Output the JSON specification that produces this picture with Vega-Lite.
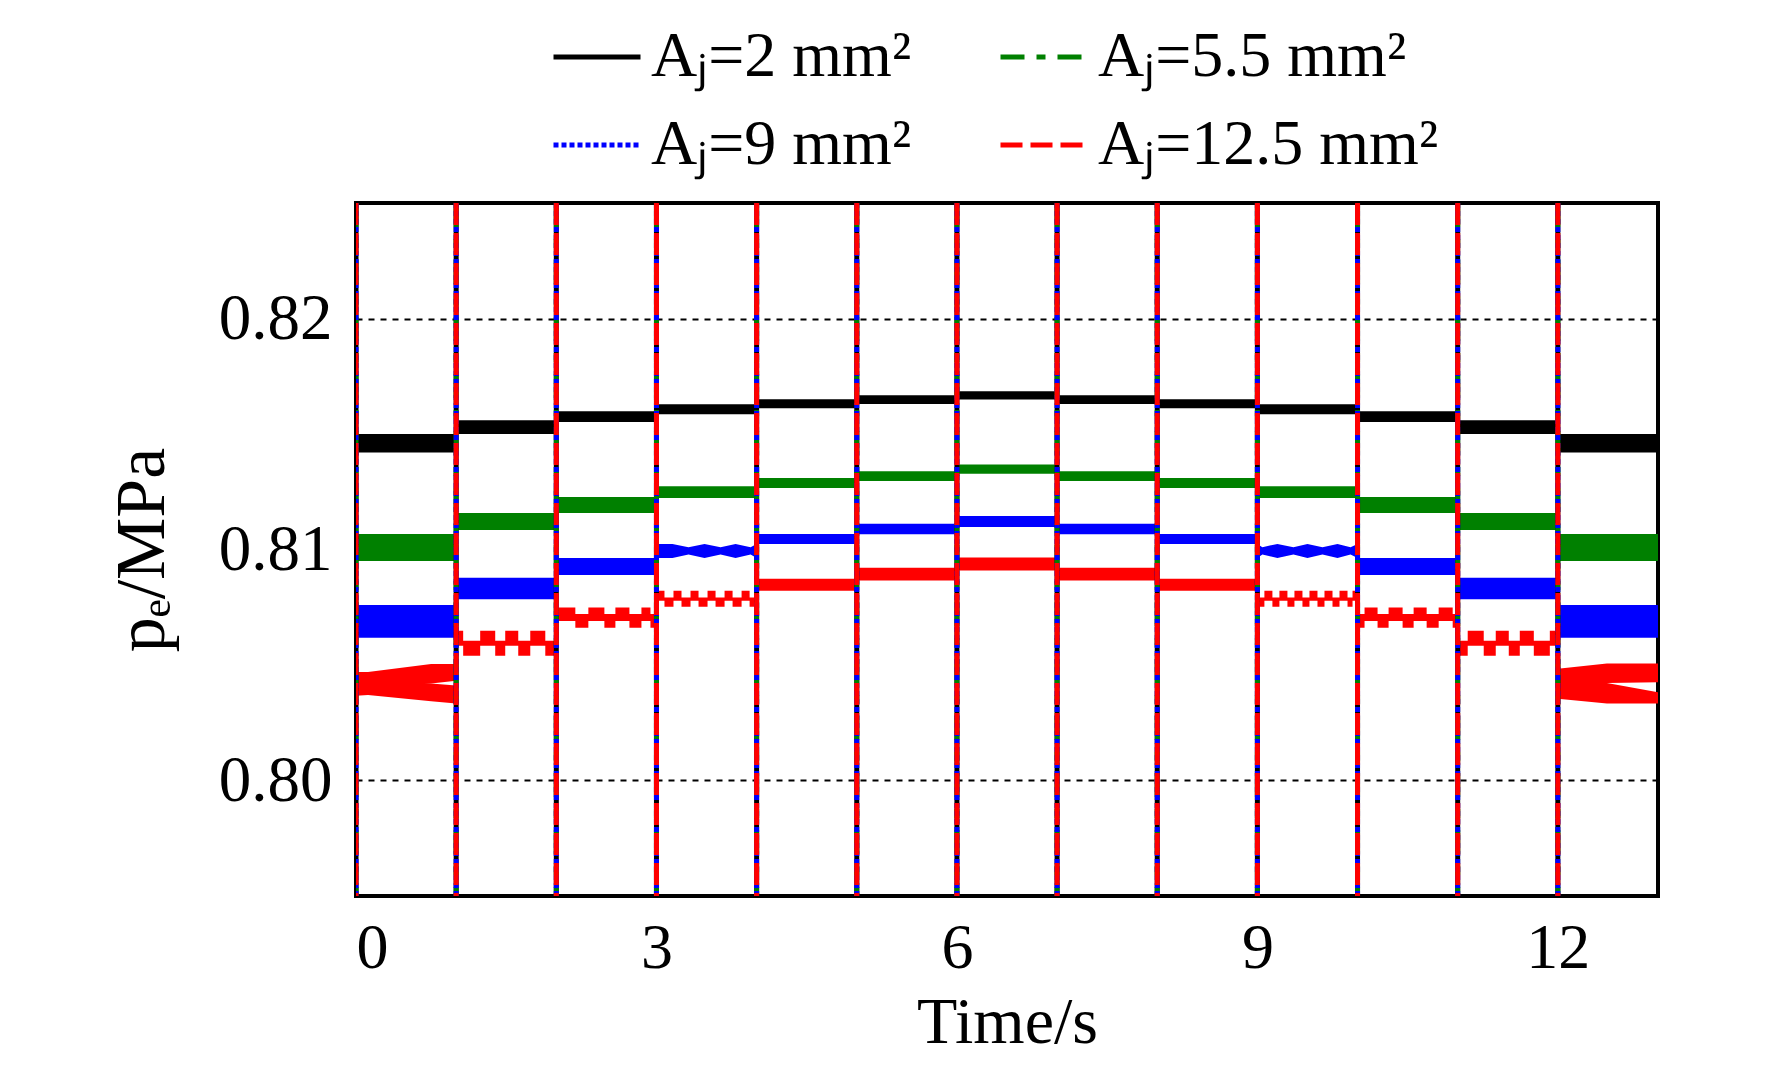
{
"$schema":"https://vega.github.io/schema/vega-lite/v6.json",
"autosize":{"type":"none"},
"padding":{"left":356,"top":203,"right":114,"bottom":175},
"width":1302,"height":693,
"background":"white",
"config":{"font":"Liberation Serif","view":{"stroke":"black","strokeWidth":4},
"legend":{"orient":"none","direction":"horizontal","legendX":195,"legendY":-192,"columns":2,"symbolType":"stroke","symbolSize":7569,"symbolStrokeWidth":5,"labelFontSize":64,"labelFont":"Liberation Serif","labelColor":"black","labelOffset":8,"columnPadding":78,"rowPadding":10,"labelLimit":0}},
"datasets":{
"bands":[
{"s":"2","g":"k0","t":0,"lo":0.8142,"hi":0.815},{"s":"2","g":"k0","t":1,"lo":0.8142,"hi":0.815},
{"s":"2","g":"k1","t":1,"lo":0.815,"hi":0.8156},{"s":"2","g":"k1","t":2,"lo":0.815,"hi":0.8156},
{"s":"2","g":"k2","t":2,"lo":0.81552,"hi":0.81598},{"s":"2","g":"k2","t":3,"lo":0.81552,"hi":0.81598},
{"s":"2","g":"k3","t":3,"lo":0.81585,"hi":0.81629},{"s":"2","g":"k3","t":4,"lo":0.81585,"hi":0.81629},
{"s":"2","g":"k4","t":4,"lo":0.81611,"hi":0.8165},{"s":"2","g":"k4","t":5,"lo":0.81611,"hi":0.8165},
{"s":"2","g":"k5","t":5,"lo":0.8163,"hi":0.81668},{"s":"2","g":"k5","t":6,"lo":0.8163,"hi":0.81668},
{"s":"2","g":"k6","t":6,"lo":0.81649,"hi":0.81685},{"s":"2","g":"k6","t":7,"lo":0.81649,"hi":0.81685},
{"s":"2","g":"k7","t":7,"lo":0.8163,"hi":0.81668},{"s":"2","g":"k7","t":8,"lo":0.8163,"hi":0.81668},
{"s":"2","g":"k8","t":8,"lo":0.81611,"hi":0.8165},{"s":"2","g":"k8","t":9,"lo":0.81611,"hi":0.8165},
{"s":"2","g":"k9","t":9,"lo":0.81585,"hi":0.81629},{"s":"2","g":"k9","t":10,"lo":0.81585,"hi":0.81629},
{"s":"2","g":"k10","t":10,"lo":0.81552,"hi":0.81598},{"s":"2","g":"k10","t":11,"lo":0.81552,"hi":0.81598},
{"s":"2","g":"k11","t":11,"lo":0.815,"hi":0.8156},{"s":"2","g":"k11","t":12,"lo":0.815,"hi":0.8156},
{"s":"2","g":"k12","t":12,"lo":0.8142,"hi":0.815},{"s":"2","g":"k12","t":13,"lo":0.8142,"hi":0.815},
{"s":"5.5","g":"g0","t":0,"lo":0.8095,"hi":0.81067},{"s":"5.5","g":"g0","t":1,"lo":0.8095,"hi":0.81067},
{"s":"5.5","g":"g1","t":1,"lo":0.81084,"hi":0.81158},{"s":"5.5","g":"g1","t":2,"lo":0.81084,"hi":0.81158},
{"s":"5.5","g":"g2","t":2,"lo":0.81158,"hi":0.81227},{"s":"5.5","g":"g2","t":3,"lo":0.81158,"hi":0.81227},
{"s":"5.5","g":"g3","t":3,"lo":0.81223,"hi":0.81274},{"s":"5.5","g":"g3","t":4,"lo":0.81223,"hi":0.81274},
{"s":"5.5","g":"g4","t":4,"lo":0.81266,"hi":0.81309},{"s":"5.5","g":"g4","t":5,"lo":0.81266,"hi":0.81309},
{"s":"5.5","g":"g5","t":5,"lo":0.81296,"hi":0.81339},{"s":"5.5","g":"g5","t":6,"lo":0.81296,"hi":0.81339},
{"s":"5.5","g":"g6","t":6,"lo":0.81328,"hi":0.81368},{"s":"5.5","g":"g6","t":7,"lo":0.81328,"hi":0.81368},
{"s":"5.5","g":"g7","t":7,"lo":0.81296,"hi":0.81339},{"s":"5.5","g":"g7","t":8,"lo":0.81296,"hi":0.81339},
{"s":"5.5","g":"g8","t":8,"lo":0.81266,"hi":0.81309},{"s":"5.5","g":"g8","t":9,"lo":0.81266,"hi":0.81309},
{"s":"5.5","g":"g9","t":9,"lo":0.81223,"hi":0.81274},{"s":"5.5","g":"g9","t":10,"lo":0.81223,"hi":0.81274},
{"s":"5.5","g":"g10","t":10,"lo":0.81158,"hi":0.81227},{"s":"5.5","g":"g10","t":11,"lo":0.81158,"hi":0.81227},
{"s":"5.5","g":"g11","t":11,"lo":0.81084,"hi":0.81158},{"s":"5.5","g":"g11","t":12,"lo":0.81084,"hi":0.81158},
{"s":"5.5","g":"g12","t":12,"lo":0.8095,"hi":0.81067},{"s":"5.5","g":"g12","t":13,"lo":0.8095,"hi":0.81067},
{"s":"9","g":"b0","t":0,"lo":0.80618,"hi":0.8076},{"s":"9","g":"b0","t":1,"lo":0.80618,"hi":0.8076},
{"s":"9","g":"b1","t":1,"lo":0.80785,"hi":0.80878},{"s":"9","g":"b1","t":2,"lo":0.80785,"hi":0.80878},
{"s":"9","g":"b2","t":2,"lo":0.8089,"hi":0.80963},{"s":"9","g":"b2","t":3,"lo":0.8089,"hi":0.80963},
{"s":"9","g":"b3","t":3,"lo":0.80963,"hi":0.81024},{"s":"9","g":"b3","t":3.16,"lo":0.80963,"hi":0.81024},
{"s":"9","g":"b3","t":3.32,"lo":0.80978,"hi":0.8101},{"s":"9","g":"b3","t":3.48,"lo":0.80963,"hi":0.81024},
{"s":"9","g":"b3","t":3.64,"lo":0.80978,"hi":0.8101},{"s":"9","g":"b3","t":3.79,"lo":0.80963,"hi":0.81024},
{"s":"9","g":"b3","t":3.94,"lo":0.80978,"hi":0.8101},{"s":"9","g":"b3","t":4,"lo":0.80963,"hi":0.81024},
{"s":"9","g":"b4","t":4,"lo":0.81024,"hi":0.81067},{"s":"9","g":"b4","t":5,"lo":0.81024,"hi":0.81067},
{"s":"9","g":"b5","t":5,"lo":0.81066,"hi":0.81111},{"s":"9","g":"b5","t":6,"lo":0.81066,"hi":0.81111},
{"s":"9","g":"b6","t":6,"lo":0.81097,"hi":0.81145},{"s":"9","g":"b6","t":7,"lo":0.81097,"hi":0.81145},
{"s":"9","g":"b7","t":7,"lo":0.81066,"hi":0.81111},{"s":"9","g":"b7","t":8,"lo":0.81066,"hi":0.81111},
{"s":"9","g":"b8","t":8,"lo":0.81024,"hi":0.81067},{"s":"9","g":"b8","t":9,"lo":0.81024,"hi":0.81067},
{"s":"9","g":"b9","t":9,"lo":0.80963,"hi":0.81024},{"s":"9","g":"b9","t":9.05,"lo":0.80978,"hi":0.8101},
{"s":"9","g":"b9","t":9.2,"lo":0.80963,"hi":0.81024},{"s":"9","g":"b9","t":9.36,"lo":0.80978,"hi":0.8101},
{"s":"9","g":"b9","t":9.5,"lo":0.80963,"hi":0.81024},{"s":"9","g":"b9","t":9.65,"lo":0.80978,"hi":0.8101},
{"s":"9","g":"b9","t":9.8,"lo":0.80963,"hi":0.81024},{"s":"9","g":"b9","t":9.93,"lo":0.80978,"hi":0.8101},
{"s":"9","g":"b9","t":10,"lo":0.80963,"hi":0.81024},
{"s":"9","g":"b10","t":10,"lo":0.8089,"hi":0.80963},{"s":"9","g":"b10","t":11,"lo":0.8089,"hi":0.80963},
{"s":"9","g":"b11","t":11,"lo":0.80785,"hi":0.80878},{"s":"9","g":"b11","t":12,"lo":0.80785,"hi":0.80878},
{"s":"9","g":"b12","t":12,"lo":0.80618,"hi":0.8076},{"s":"9","g":"b12","t":13,"lo":0.80618,"hi":0.8076},
{"s":"12.5","g":"r0u","t":0,"lo":0.804,"hi":0.8047},{"s":"12.5","g":"r0u","t":0.12,"lo":0.804,"hi":0.8047},
{"s":"12.5","g":"r0u","t":0.75,"lo":0.8042,"hi":0.80504},{"s":"12.5","g":"r0u","t":1,"lo":0.80432,"hi":0.80504},
{"s":"12.5","g":"r0l","t":0,"lo":0.80367,"hi":0.8043},{"s":"12.5","g":"r0l","t":0.12,"lo":0.8037,"hi":0.8043},
{"s":"12.5","g":"r0l","t":0.75,"lo":0.80343,"hi":0.8042},{"s":"12.5","g":"r0l","t":1,"lo":0.80333,"hi":0.80411},
{"s":"12.5","g":"r4","t":4,"lo":0.80821,"hi":0.80873},{"s":"12.5","g":"r4","t":5,"lo":0.80821,"hi":0.80873},
{"s":"12.5","g":"r5","t":5,"lo":0.80866,"hi":0.80921},{"s":"12.5","g":"r5","t":6,"lo":0.80866,"hi":0.80921},
{"s":"12.5","g":"r6","t":6,"lo":0.80909,"hi":0.80965},{"s":"12.5","g":"r6","t":7,"lo":0.80909,"hi":0.80965},
{"s":"12.5","g":"r7","t":7,"lo":0.80866,"hi":0.80921},{"s":"12.5","g":"r7","t":8,"lo":0.80866,"hi":0.80921},
{"s":"12.5","g":"r8","t":8,"lo":0.80821,"hi":0.80873},{"s":"12.5","g":"r8","t":9,"lo":0.80821,"hi":0.80873},
{"s":"12.5","g":"r12u","t":12,"lo":0.804,"hi":0.80484},{"s":"12.5","g":"r12u","t":12.49,"lo":0.80422,"hi":0.80507},
{"s":"12.5","g":"r12u","t":13,"lo":0.80425,"hi":0.80507},
{"s":"12.5","g":"r12l","t":12,"lo":0.80354,"hi":0.8044},{"s":"12.5","g":"r12l","t":12.49,"lo":0.80333,"hi":0.80422},
{"s":"12.5","g":"r12l","t":13,"lo":0.80333,"hi":0.80382}
],
"waves":[
{"s":"12.5","g":"w1","t":1,"lo":0.80583,"hi":0.80648},{"s":"12.5","g":"w1","t":1.07,"lo":0.8054,"hi":0.80605},
{"s":"12.5","g":"w1","t":1.24,"lo":0.80583,"hi":0.80648},{"s":"12.5","g":"w1","t":1.39,"lo":0.8054,"hi":0.80605},
{"s":"12.5","g":"w1","t":1.49,"lo":0.80583,"hi":0.80648},{"s":"12.5","g":"w1","t":1.62,"lo":0.8054,"hi":0.80605},
{"s":"12.5","g":"w1","t":1.74,"lo":0.80583,"hi":0.80648},{"s":"12.5","g":"w1","t":1.89,"lo":0.8054,"hi":0.80605},
{"s":"12.5","g":"w1","t":2,"lo":0.8054,"hi":0.80605},
{"s":"12.5","g":"w2","t":2,"lo":0.80691,"hi":0.80749},{"s":"12.5","g":"w2","t":2.19,"lo":0.80661,"hi":0.80721},
{"s":"12.5","g":"w2","t":2.32,"lo":0.80691,"hi":0.80749},{"s":"12.5","g":"w2","t":2.48,"lo":0.80661,"hi":0.80721},
{"s":"12.5","g":"w2","t":2.59,"lo":0.80691,"hi":0.80749},{"s":"12.5","g":"w2","t":2.73,"lo":0.80661,"hi":0.80721},
{"s":"12.5","g":"w2","t":2.85,"lo":0.80691,"hi":0.80749},{"s":"12.5","g":"w2","t":2.94,"lo":0.80661,"hi":0.80721},
{"s":"12.5","g":"w2","t":3,"lo":0.80661,"hi":0.80721},
{"s":"12.5","g":"w3","t":3,"lo":0.80778,"hi":0.80821},{"s":"12.5","g":"w3","t":3.08,"lo":0.80752,"hi":0.80792},
{"s":"12.5","g":"w3","t":3.17,"lo":0.80778,"hi":0.80821},{"s":"12.5","g":"w3","t":3.25,"lo":0.80752,"hi":0.80792},
{"s":"12.5","g":"w3","t":3.34,"lo":0.80778,"hi":0.80821},{"s":"12.5","g":"w3","t":3.42,"lo":0.80752,"hi":0.80792},
{"s":"12.5","g":"w3","t":3.51,"lo":0.80778,"hi":0.80821},{"s":"12.5","g":"w3","t":3.59,"lo":0.80752,"hi":0.80792},
{"s":"12.5","g":"w3","t":3.68,"lo":0.80778,"hi":0.80821},{"s":"12.5","g":"w3","t":3.76,"lo":0.80752,"hi":0.80792},
{"s":"12.5","g":"w3","t":3.85,"lo":0.80778,"hi":0.80821},{"s":"12.5","g":"w3","t":3.93,"lo":0.80752,"hi":0.80792},
{"s":"12.5","g":"w3","t":4,"lo":0.80752,"hi":0.80792},
{"s":"12.5","g":"w9","t":9,"lo":0.80752,"hi":0.80792},{"s":"12.5","g":"w9","t":9.07,"lo":0.80778,"hi":0.80821},
{"s":"12.5","g":"w9","t":9.15,"lo":0.80752,"hi":0.80792},{"s":"12.5","g":"w9","t":9.22,"lo":0.80778,"hi":0.80821},
{"s":"12.5","g":"w9","t":9.3,"lo":0.80752,"hi":0.80792},{"s":"12.5","g":"w9","t":9.37,"lo":0.80778,"hi":0.80821},
{"s":"12.5","g":"w9","t":9.45,"lo":0.80752,"hi":0.80792},{"s":"12.5","g":"w9","t":9.52,"lo":0.80778,"hi":0.80821},
{"s":"12.5","g":"w9","t":9.6,"lo":0.80752,"hi":0.80792},{"s":"12.5","g":"w9","t":9.67,"lo":0.80778,"hi":0.80821},
{"s":"12.5","g":"w9","t":9.75,"lo":0.80752,"hi":0.80792},{"s":"12.5","g":"w9","t":9.82,"lo":0.80778,"hi":0.80821},
{"s":"12.5","g":"w9","t":9.9,"lo":0.80752,"hi":0.80792},{"s":"12.5","g":"w9","t":9.95,"lo":0.80778,"hi":0.80821},
{"s":"12.5","g":"w9","t":10,"lo":0.80778,"hi":0.80821},
{"s":"12.5","g":"w10","t":10,"lo":0.80661,"hi":0.80721},{"s":"12.5","g":"w10","t":10.07,"lo":0.80691,"hi":0.80749},
{"s":"12.5","g":"w10","t":10.2,"lo":0.80661,"hi":0.80721},{"s":"12.5","g":"w10","t":10.31,"lo":0.80691,"hi":0.80749},
{"s":"12.5","g":"w10","t":10.45,"lo":0.80661,"hi":0.80721},{"s":"12.5","g":"w10","t":10.56,"lo":0.80691,"hi":0.80749},
{"s":"12.5","g":"w10","t":10.69,"lo":0.80661,"hi":0.80721},{"s":"12.5","g":"w10","t":10.81,"lo":0.80691,"hi":0.80749},
{"s":"12.5","g":"w10","t":10.95,"lo":0.80661,"hi":0.80721},{"s":"12.5","g":"w10","t":11,"lo":0.80661,"hi":0.80721},
{"s":"12.5","g":"w11","t":11,"lo":0.8054,"hi":0.80605},{"s":"12.5","g":"w11","t":11.1,"lo":0.80583,"hi":0.80648},
{"s":"12.5","g":"w11","t":11.26,"lo":0.8054,"hi":0.80605},{"s":"12.5","g":"w11","t":11.38,"lo":0.80583,"hi":0.80648},
{"s":"12.5","g":"w11","t":11.51,"lo":0.8054,"hi":0.80605},{"s":"12.5","g":"w11","t":11.62,"lo":0.80583,"hi":0.80648},
{"s":"12.5","g":"w11","t":11.76,"lo":0.8054,"hi":0.80605},{"s":"12.5","g":"w11","t":11.92,"lo":0.80583,"hi":0.80648},
{"s":"12.5","g":"w11","t":12,"lo":0.80583,"hi":0.80648}
],
"spikes":[
{"s":"2","t":0},{"s":"2","t":1},{"s":"2","t":2},{"s":"2","t":3},{"s":"2","t":4},{"s":"2","t":5},{"s":"2","t":6},{"s":"2","t":7},{"s":"2","t":8},{"s":"2","t":9},{"s":"2","t":10},{"s":"2","t":11},{"s":"2","t":12},
{"s":"5.5","t":0},{"s":"5.5","t":1},{"s":"5.5","t":2},{"s":"5.5","t":3},{"s":"5.5","t":4},{"s":"5.5","t":5},{"s":"5.5","t":6},{"s":"5.5","t":7},{"s":"5.5","t":8},{"s":"5.5","t":9},{"s":"5.5","t":10},{"s":"5.5","t":11},{"s":"5.5","t":12},
{"s":"9","t":0},{"s":"9","t":1},{"s":"9","t":2},{"s":"9","t":3},{"s":"9","t":4},{"s":"9","t":5},{"s":"9","t":6},{"s":"9","t":7},{"s":"9","t":8},{"s":"9","t":9},{"s":"9","t":10},{"s":"9","t":11},{"s":"9","t":12},
{"s":"12.5","t":0},{"s":"12.5","t":1},{"s":"12.5","t":2},{"s":"12.5","t":3},{"s":"12.5","t":4},{"s":"12.5","t":5},{"s":"12.5","t":6},{"s":"12.5","t":7},{"s":"12.5","t":8},{"s":"12.5","t":9},{"s":"12.5","t":10},{"s":"12.5","t":11},{"s":"12.5","t":12}
]
},
"layer":[
{
"data":{"name":"bands"},
"mark":{"type":"area","clip":true,"interpolate":"linear"},
"encoding":{
"x":{"field":"t","type":"quantitative","scale":{"domain":[0,13],"nice":false,"zero":false},
"axis":{"values":[0,3,6,9,12],"format":"d","title":"Time/s","domain":false,"ticks":false,"grid":false,"labelFontSize":64,"labelColor":"black","labelPadding":20,"titleFontSize":66,"titleFontWeight":"normal","titleColor":"black","titlePadding":10,"labelFont":"Liberation Serif","titleFont":"Liberation Serif"}},
"y":{"field":"lo","type":"quantitative","scale":{"domain":[0.795,0.825],"nice":false,"zero":false},
"axis":{"values":[0.8,0.81,0.82],"format":".2f","title":"pₑ/MPa","domain":false,"ticks":false,"grid":true,"gridColor":"black","gridDash":[6,6],"gridWidth":2,"gridOpacity":{"condition":{"test":"abs(datum.value - 0.81) < 0.001","value":0},"value":1},"labelFontSize":65,"labelColor":"black","labelPadding":24,"titleFontSize":70,"titleFontWeight":"normal","titleColor":"black","titlePadding":40,"labelFont":"Liberation Serif","titleFont":"Liberation Serif"}},
"y2":{"field":"hi"},
"fill":{"field":"s","type":"nominal","scale":{"domain":["12.5","9","5.5","2"],"range":["#ff0000","#0000ff","#008000","#000000"]},"legend":null},
"detail":{"field":"g","type":"nominal"}
}
},
{
"data":{"name":"waves"},
"mark":{"type":"area","clip":true,"interpolate":"step-after"},
"encoding":{
"x":{"field":"t","type":"quantitative"},
"y":{"field":"lo","type":"quantitative"},
"y2":{"field":"hi"},
"fill":{"field":"s","type":"nominal","legend":null},
"detail":{"field":"g","type":"nominal"}
}
},
{
"data":{"name":"spikes"},
"mark":{"type":"rule","clip":true,"strokeWidth":5},
"encoding":{
"x":{"field":"t","type":"quantitative"},
"color":{"field":"s","type":"nominal","scale":{"domain":["2","5.5","9","12.5"],"range":["#000000","#008000","#0000ff","#ff0000"]},
"legend":{"title":null,"labelExpr":"'Aⱼ=' + datum.label + ' mm²'"}},
"strokeDash":{"field":"s","type":"nominal","scale":{"domain":["2","5.5","9","12.5"],"range":[[1,0],[24,12,9,12],[5,3],[22,8]]},
"legend":{"title":null,"labelExpr":"'Aⱼ=' + datum.label + ' mm²'"}}
}
}
]
}
